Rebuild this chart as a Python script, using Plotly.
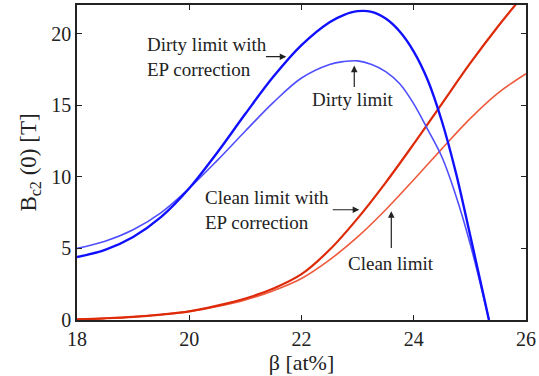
import plotly.graph_objects as go

# ---- data ----
x_dirty_ep = [18.0, 18.5, 19.0, 19.5, 20.0, 20.5, 21.0, 21.5, 22.0, 22.5, 22.75, 23.0, 23.25, 23.5, 23.75, 24.0, 24.25, 24.5, 24.75, 25.0, 25.25, 25.34]
y_dirty_ep = [4.4, 4.9, 5.8, 7.2, 9.2, 11.7, 14.4, 17.0, 19.2, 20.8, 21.3, 21.57, 21.52, 21.05, 20.15, 18.75, 16.75, 13.9, 10.3, 6.0, 1.6, 0.0]

x_dirty = [18.0, 18.5, 19.0, 19.5, 20.0, 20.5, 21.0, 21.5, 22.0, 22.5, 22.75, 23.0, 23.25, 23.5, 23.75, 24.0, 24.25, 24.5, 24.75, 25.0, 25.25, 25.34]
y_dirty = [5.0, 5.5, 6.3, 7.5, 9.2, 11.15, 13.2, 15.2, 16.9, 17.85, 18.05, 18.1, 17.85, 17.35, 16.5, 15.1, 13.3, 11.4, 8.7, 5.4, 1.5, 0.0]

x_clean_ep = [18.0, 18.5, 19.0, 19.5, 20.0, 20.5, 21.0, 21.5, 22.0, 22.5, 23.0, 23.5, 24.0, 24.5, 25.0, 25.5, 26.0]
y_clean_ep = [0.05, 0.12, 0.22, 0.38, 0.6, 1.0, 1.5, 2.2, 3.2, 4.9, 7.1, 9.6, 12.3, 15.1, 17.9, 20.5, 22.9]

x_clean = [18.0, 18.5, 19.0, 19.5, 20.0, 20.5, 21.0, 21.5, 22.0, 22.5, 23.0, 23.5, 24.0, 24.5, 25.0, 25.5, 26.0]
y_clean = [0.05, 0.12, 0.22, 0.38, 0.6, 0.95, 1.4, 2.05, 2.9, 4.2, 5.8, 7.7, 9.8, 11.95, 14.05, 15.85, 17.2]

x_ticks = [18, 20, 22, 24, 26]
y_ticks = [0, 5, 10, 15, 20]

FONT = "Liberation Serif, Times New Roman, serif"
TXT = "#222222"

fig = go.Figure()
fig.add_trace(go.Scatter(x=x_clean, y=y_clean, mode="lines",
                         line=dict(color="#ee5a3c", width=1.6, shape="spline", smoothing=1.0)))
fig.add_trace(go.Scatter(x=x_clean_ep, y=y_clean_ep, mode="lines",
                         line=dict(color="#dd2a08", width=2.2, shape="spline", smoothing=1.0)))
fig.add_trace(go.Scatter(x=x_dirty, y=y_dirty, mode="lines",
                         line=dict(color="#4f4fff", width=1.6, shape="spline", smoothing=1.0)))
fig.add_trace(go.Scatter(x=x_dirty_ep, y=y_dirty_ep, mode="lines",
                         line=dict(color="#1010ff", width=2.4, shape="spline", smoothing=1.0)))

def label(x, y, text, xanchor):
    fig.add_annotation(x=x, y=y, xref="x", yref="y", text=text, showarrow=False,
                       xanchor=xanchor, yanchor="middle", align="left",
                       font=dict(family=FONT, size=19, color=TXT))

def arrow(x0, y0, x1, y1):
    fig.add_annotation(x=x1, y=y1, ax=x0, ay=y0, xref="x", yref="y", axref="x", ayref="y",
                       text="", showarrow=True, arrowhead=2, arrowsize=1.1, arrowwidth=1.2,
                       arrowcolor=TXT, standoff=0, startstandoff=0)

label(19.21, 18.39, "Dirty limit with<br>EP correction", "left")
arrow(21.34, 18.39, 21.73, 18.39)
label(22.91, 15.41, "Dirty limit", "center")
arrow(22.94, 16.17, 22.94, 17.77)
label(20.24, 7.70, "Clean limit with<br>EP correction", "left")
arrow(22.53, 7.70, 23.03, 7.70)
label(23.6, 3.96, "Clean limit", "center")
arrow(23.6, 4.93, 23.6, 7.6)

axis_common = dict(showgrid=False, zeroline=False, showline=True, linecolor="#222222",
                   linewidth=1.5, mirror="ticks", ticks="inside", ticklen=5,
                   tickcolor="#222222", tickwidth=1,
                   tickfont=dict(family=FONT, size=20, color=TXT))

fig.update_xaxes(range=[18, 26], tickvals=x_ticks, ticktext=[str(v) for v in x_ticks],
                 title=dict(text="β [at%]", font=dict(family=FONT, size=22, color=TXT), standoff=1),
                 **axis_common)
fig.update_yaxes(range=[0, 22], tickvals=y_ticks, ticktext=[str(v) for v in y_ticks],
                 title=dict(text="B<sub>c2</sub> (0) [T]", font=dict(family=FONT, size=23, color=TXT), standoff=8),
                 **axis_common)

fig.update_layout(width=539, height=376, margin=dict(l=77, r=12, t=3, b=56),
                  paper_bgcolor="white", plot_bgcolor="white", showlegend=False,
                  font=dict(family=FONT))

fig.write_html("out.html")
